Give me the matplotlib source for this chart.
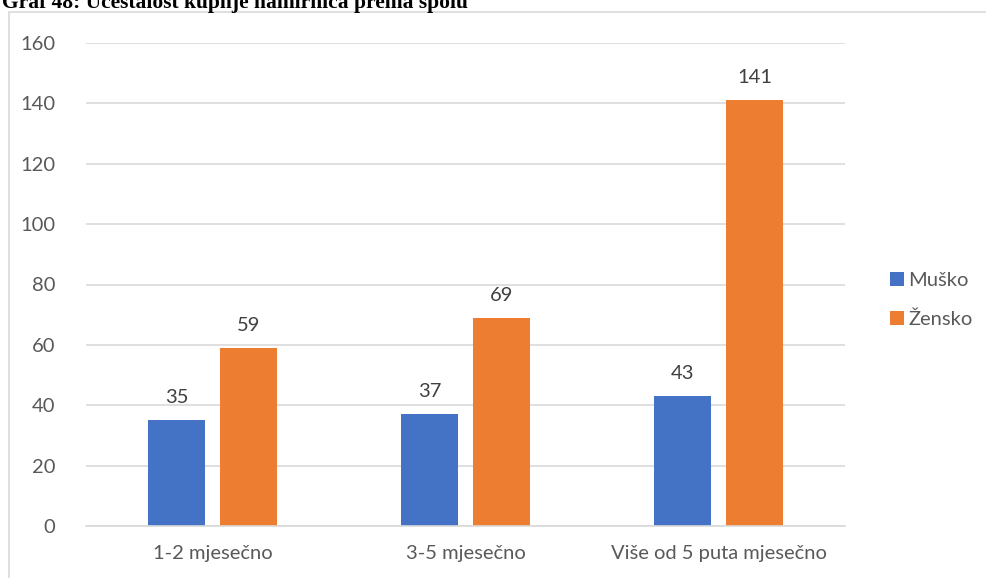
import matplotlib
matplotlib.use("Agg")
import matplotlib.pyplot as plt
from matplotlib.patches import Rectangle
import numpy as np

categories = ["1-2 mjesečno", "3-5 mjesečno", "Više od 5 puta mjesečno"]
series_names = ["Muško", "Žensko"]
musko = [35, 37, 43]
zensko = [59, 69, 141]
colors = ["#4472C4", "#ED7D31"]
yticks = [0, 20, 40, 60, 80, 100, 120, 140, 160]

W, H = 987, 578
fig = plt.figure(figsize=(W/100, H/100), dpi=100)
plt.rcParams['font.family'] = ['Lato', 'DejaVu Sans']

# chart frame
fig.patches.append(Rectangle((9/W, -0.1), 1.1, (H-12)/H + 0.1, transform=fig.transFigure,
                             fill=False, edgecolor="#d9d9d9", lw=1.2))

ax = fig.add_axes([86/W, 1-526/H, (845-86)/W, (526-43)/H])
x = np.arange(len(categories))
bw = 0.225
off = 0.142
b1 = ax.bar(x - off, musko, bw, color=colors[0], label=series_names[0], zorder=3)
b2 = ax.bar(x + off, zensko, bw, color=colors[1], label=series_names[1], zorder=3)
for bars, vals in ((b1, musko), (b2, zensko)):
    for r, v in zip(bars, vals):
        ax.annotate(str(v), (r.get_x() + r.get_width()/2, v), xytext=(0, 10),
                    textcoords="offset points", ha="center", va="bottom",
                    fontsize=14.5, color="#404040")

ax.set_xlim(-0.5, 2.5)
ax.set_ylim(0, 160)
ax.set_yticks(yticks)
ax.set_xticks(x)
ax.set_xticklabels(categories)
ax.tick_params(axis="both", length=0, labelsize=14.5, labelcolor="#595959")
ax.tick_params(axis="y", pad=22)
ax.tick_params(axis="x", pad=14)
ax.grid(axis="y", color="#d9d9d9", lw=1.2, zorder=0)
for s in ["top", "right", "left"]:
    ax.spines[s].set_visible(False)
ax.spines["bottom"].set_color("#d9d9d9")
ax.spines["bottom"].set_linewidth(1.2)
ax.spines["bottom"].set_zorder(4)

leg = fig.legend(handles=[b1, b2], labels=series_names, loc="center left",
                 bbox_to_anchor=(872/W, 1-300/H), frameon=False, fontsize=14.5,
                 handlelength=0.7, handleheight=0.7, handletextpad=0.2,
                 labelspacing=1.1, labelcolor="#595959")

fig.text(2/W, 1-8/H, "Graf 48: Učestalost kupnje namirnica prema spolu",
         family=["Liberation Serif"], fontweight="bold", fontsize=15.5,
         va="baseline", ha="left", color="black")

fig.savefig("out.png", dpi=100)
